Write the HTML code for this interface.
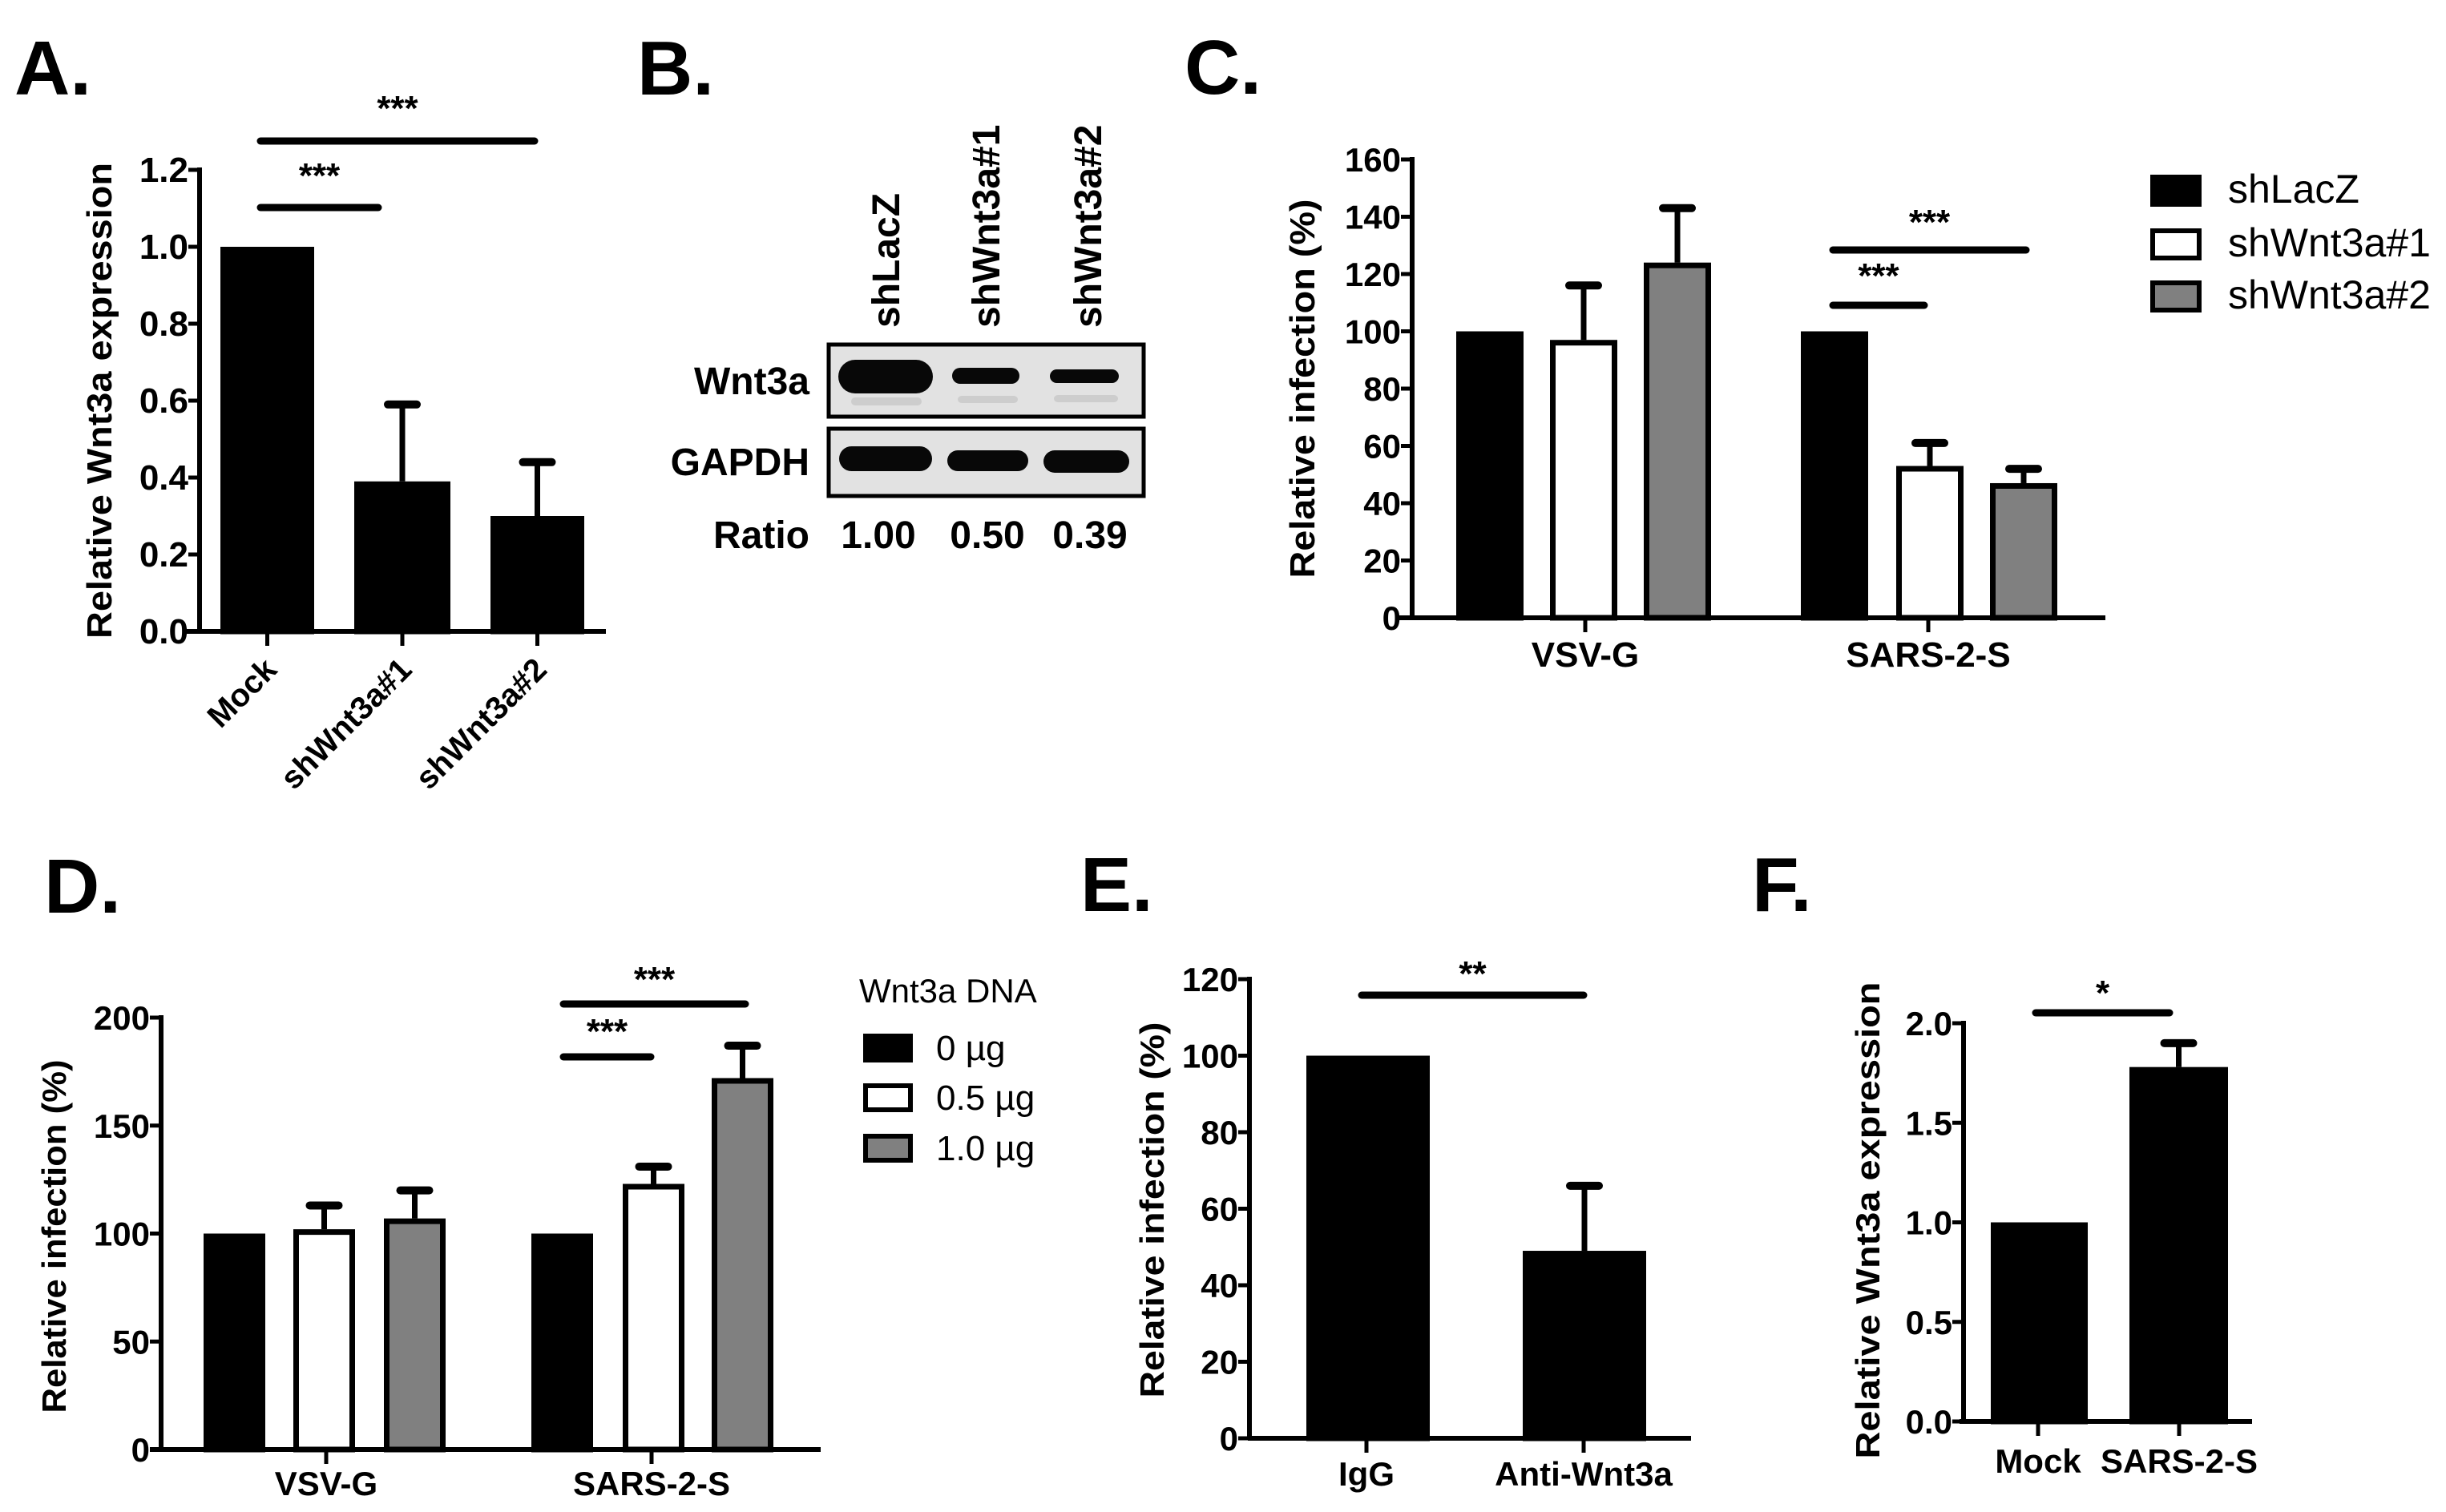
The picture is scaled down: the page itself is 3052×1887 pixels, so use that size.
<!DOCTYPE html>
<html><head><meta charset="utf-8">
<style>
html,body{margin:0;padding:0;background:#fff;}
svg{display:block;font-family:"Liberation Sans",Arial,sans-serif;}
</style></head>
<body>
<svg id="fig" width="3052" height="1887" viewBox="0 0 3052 1887" xmlns="http://www.w3.org/2000/svg">
<g id="root"></g>
</svg>
<script>
// Panel A data
const aCategories = ["Mock","shWnt3a#1","shWnt3a#2"];
const aValues = [1.0, 0.39, 0.30];
const aErrors = [0, 0.20, 0.14];
const aTicks = ["0.0","0.2","0.4","0.6","0.8","1.0","1.2"];
// Panel B data
const bLanes = ["shLacZ","shWnt3a#1","shWnt3a#2"];
const bRatios = ["1.00","0.50","0.39"];
// Panel C data
const cGroups = ["VSV-G","SARS-2-S"];
const cSeries = ["shLacZ","shWnt3a#1","shWnt3a#2"];
const cValuesShLacZ = [100, 100];
const cValuesSh1 = [97, 53];
const cValuesSh2 = [124, 47];
const cErrShLacZ = [0, 0];
const cErrSh1 = [19, 8];
const cErrSh2 = [19, 5];
const cTicks = ["0","20","40","60","80","100","120","140","160"];
// Panel D data
const dGroups = ["VSV-G","SARS-2-S"];
const dSeries = ["0 \u00b5g","0.5 \u00b5g","1.0 \u00b5g"];
const dValues0 = [100, 100];
const dValues05 = [102, 123];
const dValues10 = [107, 172];
const dErr0 = [0, 0];
const dErr05 = [11, 8];
const dErr10 = [13, 15];
const dTicks = ["0","50","100","150","200"];
// Panel E data
const eCategories = ["IgG","Anti-Wnt3a"];
const eValues = [100, 49];
const eErrors = [0, 17];
const eTicks = ["0","20","40","60","80","100","120"];
// Panel F data
const fCategories = ["Mock","SARS-2-S"];
const fValues = [1.0, 1.78];
const fErrors = [0, 0.12];
const fTicks = ["0.0","0.5","1.0","1.5","2.0"];

const NS = "http://www.w3.org/2000/svg";
const root = document.getElementById("root");
function el(tag, attrs, parent, txt){
  const e = document.createElementNS(NS, tag);
  for (const k in attrs) e.setAttribute(k, attrs[k]);
  if (txt !== undefined) e.textContent = txt;
  (parent || root).appendChild(e);
  return e;
}
function scaleY(v, vmin, vmax, y0, y1){ return y0 - (v - vmin) / (vmax - vmin) * (y0 - y1); }

function panelLabel(t, x, y, name){
  const e = el("text", {x:x, y:y, "font-size":96, "font-weight":"bold"}, root, t);
  
  
}

function axes(g, ax, y0, y1, xl, xr, ticks, vmin, vmax, tickFont){
  const ya = el("line", {x1:ax, y1:y1-3, x2:ax, y2:y0, stroke:"#000","stroke-width":6}, g);
  
  
  const xa = el("line", {x1:xl, y1:y0, x2:xr, y2:y0, stroke:"#000","stroke-width":6}, g);
  
  
  ticks.forEach(function(t){
    const v = parseFloat(t);
    const y = scaleY(v, vmin, vmax, y0, y1);
    el("line", {x1:ax-14, y1:y, x2:ax, y2:y, stroke:"#000","stroke-width":5}, g);
    const tx = el("text", {x:ax-14, y:y+15, "font-size":tickFont||44, "font-weight":"bold","text-anchor":"end"}, g, t);
    
    
  });
}

function ytitle(g, t, x, cy, len, fs){
  const e = el("text", {x:0, y:0, "font-size":fs||44, "font-weight":"bold","text-anchor":"middle",
    transform:"translate("+x+","+cy+") rotate(-90)", textLength:len, lengthAdjust:"spacingAndGlyphs"}, g, t);
  
  
}

function bar(g, x0, x1, v, err, vmin, vmax, y0, y1, fill, name){
  const top = scaleY(v, vmin, vmax, y0, y1);
  const sw = 7;
  if (err > 0){
    const et = scaleY(v+err, vmin, vmax, y0, y1);
    const cx = (x0+x1)/2;
    const eb = el("line", {x1:cx, y1:top, x2:cx, y2:et, stroke:"#000","stroke-width":7}, g);
    
    
    el("line", {x1:cx-18, y1:et, x2:cx+18, y2:et, stroke:"#000","stroke-width":10,"stroke-linecap":"round"}, g);
  }
  const r = el("rect", {x:x0+sw/2, y:top+sw/2, width:(x1-x0)-sw, height:(y0-top)-sw/2, fill:fill, stroke:"#000","stroke-width":sw}, g);
  
  
}

function sig(g, x0, x1, y, stars, sy){
  const l = el("line", {x1:x0, y1:y, x2:x1, y2:y, stroke:"#000","stroke-width":9,"stroke-linecap":"round"}, g);
  
  
  const t = el("text", {x:(x0+x1)/2, y:sy, "font-size":44, "font-weight":"bold","text-anchor":"middle"}, g, stars);
  
  
}

// ---------------- Panel A ----------------
(function(){
  const g = el("g", {});  
  panelLabel("A.", 18, 118, "panel-a-label");
  const y0 = 788, y1 = 212, vmin = 0, vmax = 1.2;
  axes(g, 249, y0, y1, 230, 756, aTicks, vmin, vmax);
  ytitle(g, "Relative Wnt3a expression", 139, 500, 594, 44);
  const xs = [[275,392],[442,562],[612,729]];
  aCategories.forEach(function(c,i){
    bar(g, xs[i][0], xs[i][1], aValues[i], aErrors[i], vmin, vmax, y0, y1, "#000", "bar-"+c.toLowerCase().replace('#',''));
    const cx = (xs[i][0]+xs[i][1])/2;
    el("line", {x1:cx, y1:y0, x2:cx, y2:y0+18, stroke:"#000","stroke-width":5}, g);
    const t = el("text", {x:0, y:0, "font-size":40, "font-weight":"bold","text-anchor":"end",
      transform:"translate("+(cx+14)+","+(y0+50)+") rotate(-45)"}, g, c);
    
    
  });
  sig(g, 325, 472, 259, "***", 234);
  sig(g, 325, 667, 176, "***", 150);
})();

// ---------------- Panel B ----------------
(function(){
  const g = el("g", {});  
  panelLabel("B.", 795, 118, "panel-b-label");
  const lx = [1105, 1230, 1357];
  bLanes.forEach(function(l,i){
    const t = el("text", {x:0, y:0, "font-size":48, "font-weight":"bold",
      transform:"translate("+(lx[i]+17)+",409) rotate(-90)"}, g, l);
    
    
  });
  const b1 = el("rect", {x:1034, y:430, width:393, height:90, fill:"#e2e2e2", stroke:"#000","stroke-width":5}, g);
   
  const b2 = el("rect", {x:1034, y:535, width:393, height:84, fill:"#e2e2e2", stroke:"#000","stroke-width":5}, g);
   
  [[1046,449,118,42],[1188,459,84,20],[1310,461,86,17]].forEach(function(b){
    const r = el("rect", {x:b[0], y:b[1], width:b[2], height:b[3], rx:b[3]/2, fill:"#080808"}, g);
     
  });
  [[1062,496,88,10],[1195,494,75,9],[1315,493,80,9]].forEach(function(b){
    el("rect", {x:b[0], y:b[1], width:b[2], height:b[3], rx:5, fill:"#cdcdcd"}, g);
  });
  [[1047,557,116,31],[1182,562,101,26],[1302,562,107,28]].forEach(function(b){
    const r = el("rect", {x:b[0], y:b[1], width:b[2], height:b[3], rx:b[3]/2, fill:"#080808"}, g);
     
  });
  const w = el("text", {x:1010, y:492, "font-size":48, "font-weight":"bold","text-anchor":"end"}, g, "Wnt3a");
   
  const gp = el("text", {x:1010, y:593, "font-size":48, "font-weight":"bold","text-anchor":"end"}, g, "GAPDH");
   
  const ra = el("text", {x:1010, y:684, "font-size":48, "font-weight":"bold","text-anchor":"end"}, g, "Ratio");
   
  const rx = [1096, 1232, 1360];
  bRatios.forEach(function(r,i){
    const t = el("text", {x:rx[i], y:684, "font-size":48, "font-weight":"bold","text-anchor":"middle"}, g, r);
     
  });
})();

// ---------------- Panel C ----------------
(function(){
  const g = el("g", {});  
  panelLabel("C.", 1478, 117, "panel-c-label");
  const y0 = 771, y1 = 199, vmin = 0, vmax = 160;
  axes(g, 1762, y0, y1, 1745, 2627, cTicks, vmin, vmax, 42);
  ytitle(g, "Relative infection (%)", 1640, 485, 473, 44);
  const vals = [cValuesShLacZ, cValuesSh1, cValuesSh2];
  const errs = [cErrShLacZ, cErrSh1, cErrSh2];
  const fills = ["#000","#fff","#808080"];
  const groupX = [[1817,1934,2051],[2247,2366,2483]];
  const bw = 84;
  const centers = [1978, 2406];
  cGroups.forEach(function(gr,gi){
    cSeries.forEach(function(s,si){
      bar(g, groupX[gi][si], groupX[gi][si]+bw, vals[si][gi], errs[si][gi], vmin, vmax, y0, y1, fills[si], "bar-"+gr.toLowerCase()+"-"+s.toLowerCase().replace('#',''));
    });
    el("line", {x1:centers[gi], y1:y0, x2:centers[gi], y2:y0+18, stroke:"#000","stroke-width":5}, g);
    const t = el("text", {x:centers[gi], y:832, "font-size":44, "font-weight":"bold","text-anchor":"middle"}, g, gr);
     
  });
  sig(g, 2287, 2401, 381, "***", 359);
  sig(g, 2287, 2528, 312, "***", 292);
  const ly = [218, 285, 350];
  cSeries.forEach(function(s,i){
    const r = el("rect", {x:2686, y:ly[i]+3, width:58, height:34, fill:fills[i], stroke:"#000","stroke-width":6}, g);
     
    const t = el("text", {x:2780, y:ly[i]+35, "font-size":50}, g, s);
     
  });
})();

// ---------------- Panel D ----------------
(function(){
  const g = el("g", {});  
  panelLabel("D.", 55, 1139, "panel-d-label");
  const y0 = 1809, y1 = 1270, vmin = 0, vmax = 200;
  axes(g, 201, y0, y1, 187, 1024, dTicks, vmin, vmax, 42);
  ytitle(g, "Relative infection (%)", 82, 1543, 441, 42);
  const vals = [dValues0, dValues05, dValues10];
  const errs = [dErr0, dErr05, dErr10];
  const fills = ["#000","#fff","#808080"];
  const groupX = [[254,366,479],[663,777,888]];
  const bw = 77;
  const centers = [407, 813];
  dGroups.forEach(function(gr,gi){
    dSeries.forEach(function(s,si){
      bar(g, groupX[gi][si], groupX[gi][si]+bw, vals[si][gi], errs[si][gi], vmin, vmax, y0, y1, fills[si], "bar-"+gr.toLowerCase()+"-dose-"+si);
    });
    el("line", {x1:centers[gi], y1:y0, x2:centers[gi], y2:y0+18, stroke:"#000","stroke-width":5}, g);
    const t = el("text", {x:centers[gi], y:1866, "font-size":42, "font-weight":"bold","text-anchor":"middle"}, g, gr);
     
  });
  sig(g, 703, 812, 1319, "***", 1302);
  sig(g, 703, 930, 1253, "***", 1237);
  const lt = el("text", {x:1072, y:1251, "font-size":42}, g, "Wnt3a DNA");
   
  const ly = [1290, 1352, 1415];
  dSeries.forEach(function(s,i){
    const r = el("rect", {x:1080, y:ly[i]+3, width:56, height:30, fill:fills[i], stroke:"#000","stroke-width":6}, g);
     
    const t = el("text", {x:1168, y:ly[i]+33, "font-size":44}, g, s);
     
  });
})();

// ---------------- Panel E ----------------
(function(){
  const g = el("g", {});  
  panelLabel("E.", 1348, 1137, "panel-e-label");
  const y0 = 1795, y1 = 1222, vmin = 0, vmax = 120;
  axes(g, 1559, y0, y1, 1557, 2110, eTicks, vmin, vmax, 42);
  ytitle(g, "Relative infection (%)", 1452, 1510, 469, 42);
  const xs = [[1630,1784],[1900,2054]];
  const centers = [1705, 1976];
  eCategories.forEach(function(c,i){
    bar(g, xs[i][0], xs[i][1], eValues[i], eErrors[i], vmin, vmax, y0, y1, "#000", "bar-"+c.toLowerCase());
    el("line", {x1:centers[i], y1:y0, x2:centers[i], y2:y0+18, stroke:"#000","stroke-width":5}, g);
    const t = el("text", {x:centers[i], y:1854, "font-size":42, "font-weight":"bold","text-anchor":"middle"}, g, c);
     
  });
  sig(g, 1699, 1976, 1242, "**", 1230);
})();

// ---------------- Panel F ----------------
(function(){
  const g = el("g", {});  
  panelLabel("F.", 2186, 1137, "panel-f-label");
  const y0 = 1774, y1 = 1277, vmin = 0, vmax = 2.0;
  axes(g, 2450, y0, y1, 2445, 2810, fTicks, vmin, vmax, 42);
  ytitle(g, "Relative Wnt3a expression", 2345, 1523, 595, 42);
  const xs = [[2484,2605],[2657,2780]];
  const centers = [2543, 2719];
  fCategories.forEach(function(c,i){
    bar(g, xs[i][0], xs[i][1], fValues[i], fErrors[i], vmin, vmax, y0, y1, "#000", "bar-"+c.toLowerCase());
    el("line", {x1:centers[i], y1:y0, x2:centers[i], y2:y0+18, stroke:"#000","stroke-width":5}, g);
    const t = el("text", {x:centers[i], y:1838, "font-size":42, "font-weight":"bold","text-anchor":"middle"}, g, c);
     
  });
  sig(g, 2540, 2707, 1264, "*", 1254);
})();
</script>
</body></html>
